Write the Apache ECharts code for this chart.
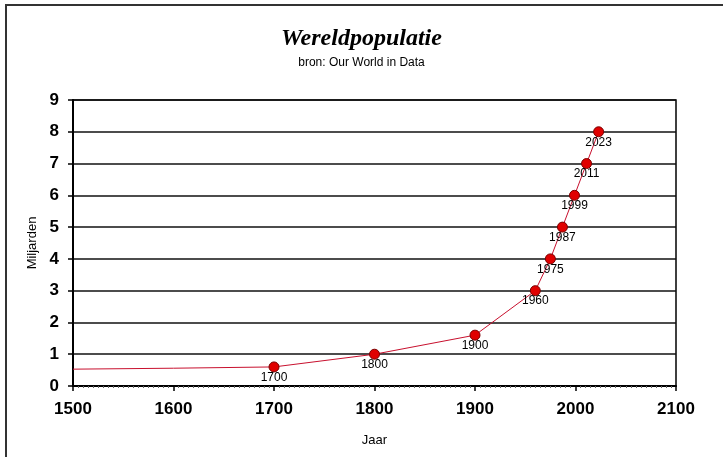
<!DOCTYPE html>
<html><head><meta charset="utf-8">
<script src="https://cdn.jsdelivr.net/npm/echarts@6/dist/echarts.min.js"></script>
<style>html,body{margin:0;padding:0;background:#fff}#c{width:723px;height:457px}</style>
</head><body><div id="c"></div>
<script>
const years = [1500, 1600, 1700, 1800, 1900, 1960, 1975, 1987, 1999, 2011, 2023];
const values = [0.53, 0.56, 0.6, 1.0, 1.6, 3.0, 4.0, 5.0, 6.0, 7.0, 8.0];
const pointLabels = ['', '', '1700', '1800', '1900', '1960', '1975', '1987', '1999', '2011', '2023'];
const yTicks = [0, 1, 2, 3, 4, 5, 6, 7, 8, 9];
const xTicks = [1500, 1600, 1700, 1800, 1900, 2000, 2100];

const data = years.map((y, i) => ({
  value: [y, values[i]],
  name: pointLabels[i],
  symbolSize: pointLabels[i] ? 10 : 0,
  label: { show: !!pointLabels[i] }
}));

const chart = echarts.init(document.getElementById('c'));
chart.setOption({
  backgroundColor: '#fff',
  animation: false,
  title: {
    text: 'Wereldpopulatie',
    subtext: 'bron: Our World in Data',
    left: 'center', top: 22, itemGap: 6,
    textStyle: { fontFamily: 'Liberation Serif', fontStyle: 'italic', fontWeight: 'bold', fontSize: 24, color: '#000' },
    subtextStyle: { fontFamily: 'Liberation Sans Narrow, Liberation Sans, sans-serif', fontSize: 12, color: '#000' }
  },
  graphic: [{
    type: 'polyline', shape: { points: [[6, 457], [6, 5], [723, 5]] },
    style: { stroke: '#333', lineWidth: 2, fill: null }
  }],
  grid: { left: 73, right: 47, top: 100, bottom: 71, show: true, borderColor: '#000', borderWidth: 1.5 },
  xAxis: {
    type: 'value', min: xTicks[0], max: xTicks[xTicks.length - 1], interval: 100,
    name: 'Jaar', nameLocation: 'middle', nameGap: 48,
    nameTextStyle: { fontFamily: 'Liberation Sans', fontSize: 13, color: '#000' },
    axisLine: { lineStyle: { color: '#000', width: 2 } },
    axisTick: { show: true, length: 5, lineStyle: { color: '#000', width: 1.5 } },
    minorTick: { show: true, splitNumber: 20, length: 2, lineStyle: { color: '#666' } },
    splitLine: { show: false },
    axisLabel: { fontFamily: 'Liberation Sans', fontWeight: 'bold', fontSize: 17, color: '#000', margin: 15, formatter: v => String(v) }
  },
  yAxis: {
    type: 'value', min: yTicks[0], max: yTicks[yTicks.length - 1], interval: 1,
    name: 'Miljarden', nameLocation: 'middle', nameGap: 33, nameRotate: 90,
    nameTextStyle: { fontFamily: 'Liberation Sans', fontSize: 13, color: '#000' },
    axisLine: { show: true, lineStyle: { color: '#000', width: 2 } },
    axisTick: { show: true, length: 5, lineStyle: { color: '#000', width: 1.5 } },
    splitLine: { show: true, lineStyle: { color: '#111', width: 1.5 } },
    axisLabel: { fontFamily: 'Liberation Sans', fontWeight: 'bold', fontSize: 17, color: '#000', margin: 14, formatter: v => String(v) }
  },
  series: [{
    type: 'line',
    data: data,
    symbol: 'circle',
    lineStyle: { color: '#c8102e', width: 1 },
    itemStyle: { color: '#e00000', borderColor: '#7a0000', borderWidth: 1 },
    label: {
      position: 'bottom', distance: -1, formatter: p => p.name,
      fontFamily: 'Liberation Sans Narrow, Liberation Sans, sans-serif', fontSize: 12, color: '#000'
    },
    z: 3
  }]
});
</script></body></html>
